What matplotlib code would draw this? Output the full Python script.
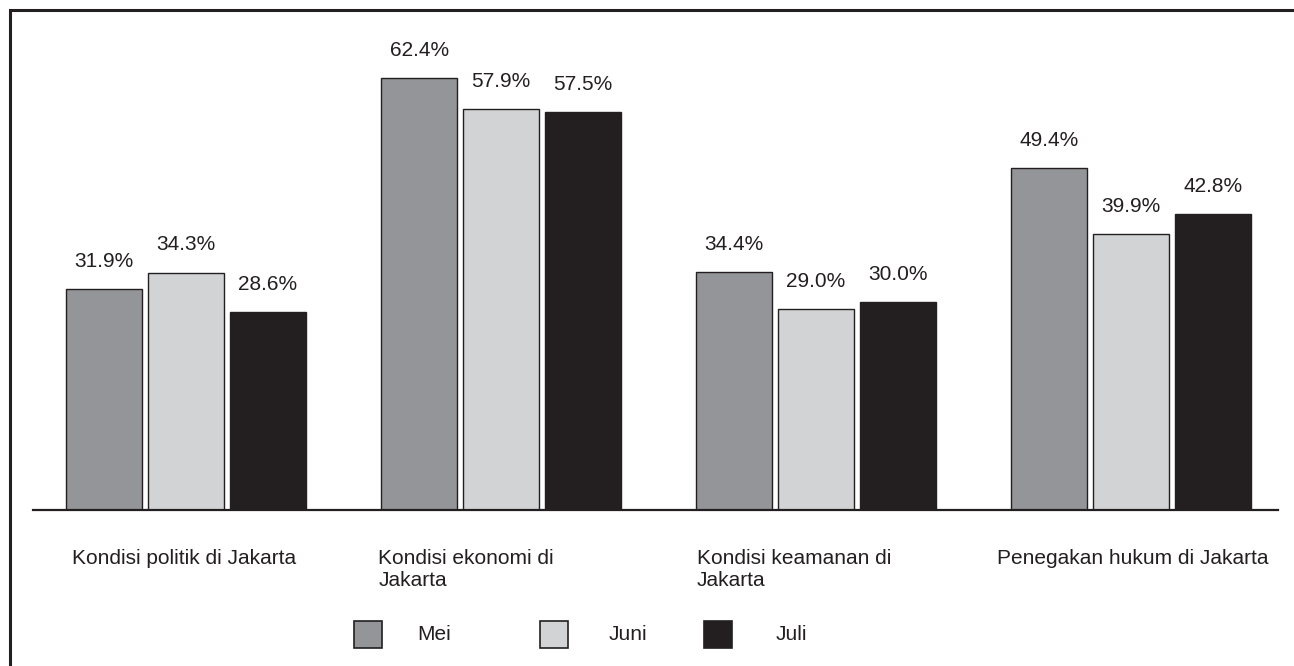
import matplotlib
matplotlib.use('Agg')
import matplotlib.pyplot as plt
from matplotlib.patches import Rectangle
import numpy as np

plt.rcParams['font.family'] = ['Liberation Sans', 'DejaVu Sans']

# ── data ──────────────────────────────────────
categories = ['Kondisi politik di Jakarta', 'Kondisi ekonomi di\nJakarta',
              'Kondisi keamanan di\nJakarta', 'Penegakan hukum di Jakarta']
series     = ['Mei', 'Juni', 'Juli']
mei        = [31.9, 62.4, 34.4, 49.4]
juni       = [34.3, 57.9, 29.0, 39.9]
juli       = [28.6, 57.5, 30.0, 42.8]

colors = ['#939598', '#d1d3d4', '#231f20']
edge   = '#231f20'
W, H   = 1294, 666

fig = plt.figure(figsize=(W / 100, H / 100), dpi=100)
ax  = fig.add_axes([33 / W, 156 / H, 1245 / W, 484.4 / H])

x = np.arange(len(categories))
w = 0.241
step = 0.26
for i, (vals, color) in enumerate(zip([mei, juni, juli], colors)):
    bars = ax.bar(x + (i - 1) * step, vals, w, color=color, edgecolor=edge,
                  linewidth=1.0, label=series[i])
    for bar, v in zip(bars, vals):
        ax.annotate(f'{v:.1f}%', (bar.get_x() + bar.get_width() / 2, v),
                    xytext=(0, 20), textcoords='offset points',
                    ha='center', va='center', fontsize=15, color='#231f20')

ax.set_xlim(-0.486, 3.467)
ax.set_ylim(0, 70)
for s in ['top', 'right', 'left']:
    ax.spines[s].set_visible(False)
ax.spines['bottom'].set_color(edge)
ax.spines['bottom'].set_linewidth(1.6)
ax.set_xticks([])
ax.set_yticks([])
ax.patch.set_alpha(0)

# category labels, left aligned under each group
label_dx = [-0.362, -0.39, -0.378, -0.425]
for i, (cat, dx) in enumerate(zip(categories, label_dx)):
    ax.text(i + dx, -0.08, cat, transform=ax.get_xaxis_transform(),
            ha='left', va='top', fontsize=15, color='#231f20',
            linespacing=1.2)

# ── legend (manual, fixed cells) ──
px = fig.dpi_scale_trans + matplotlib.transforms.Affine2D().scale(1 / 100)
sq_x   = [354, 540, 704]
txt_x  = [417, 609, 776]
for name, color, sx, tx in zip(series, colors, sq_x, txt_x):
    fig.add_artist(Rectangle((sx, H - 648), 28, 27, transform=px,
                             facecolor=color, edgecolor=edge, linewidth=1.2))
    fig.text(tx / W, (H - 635) / H, name, ha='left', va='center',
             fontsize=15, color='#231f20')

# outer frame (cut at right / bottom edge like the source)
fig.add_artist(Rectangle((9.5, -10), W + 20, H - 9.5 + 10, transform=px,
                         fill=False, edgecolor=edge, linewidth=2.2))

fig.savefig('out.png', dpi=100)
plt.close(fig)
